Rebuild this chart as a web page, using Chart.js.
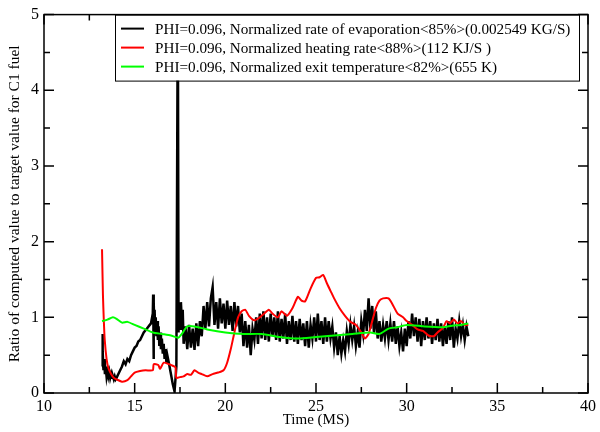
<!DOCTYPE html>
<html><head><meta charset="utf-8">
<script src="https://cdn.jsdelivr.net/npm/chart.js@4"></script>
<style>html,body{margin:0;padding:0;background:#fff;}canvas{display:block;}</style>
</head><body>
<canvas id="c" width="600" height="432" style="width:600px;height:432px"></canvas>
<script>
const xTicks = [10, 15, 20, 25, 30, 35, 40];
const xMinorTicks = [12.5, 17.5, 22.5, 27.5, 32.5, 37.5];
const yTicks = [0, 1, 2, 3, 4, 5];
const yMinorTicks = [0.5, 1.5, 2.5, 3.5, 4.5];
const legendLabels = [
  "PHI=0.096, Normalized rate of evaporation<85%>(0.002549 KG/S)",
  "PHI=0.096, Normalized heating rate<88%>(112 KJ/S )",
  "PHI=0.096, Normalized exit temperature<82%>(655 K)"
];
const xTitle = "Time (MS)";
const yTitle = "Ratio of computed value to target value for C1 fuel";

const evapTime = [13.20,13.22,13.25,13.28,13.32,13.36,13.40,13.45,13.50,13.55,13.60,13.65,13.70,13.75,13.80,13.85,13.90,13.95,14.00,
 14.1,14.2,14.3,14.4,14.5,14.6,14.7,14.8,14.9,15.0,15.1,15.2,15.3,15.4,15.5,15.6,15.7,15.8,15.9,
 16.00,16.02,16.04,16.06,16.08,16.10,16.13,16.16,16.20,16.24,16.28,16.32,16.36,16.40,16.45,16.50,16.55,16.60,16.65,16.70,16.75,16.80,16.90,17.00,17.10,17.20,17.30,17.38,17.42,17.45,17.50,17.55,17.60,17.65,
 17.7,17.8,17.9,18.0,18.1,18.2,18.3,18.4,18.5,18.6,18.7,18.8,18.9,19.0,19.1,19.2,19.3,19.4,19.5,19.6,19.7,19.8,19.9,
 20.0,20.1,20.2,20.3,20.4,20.5,20.6,20.7,20.8,20.9,21.0,21.1,21.2,21.3,21.4,21.5,21.6,21.7,21.8,21.9,
 22.0,22.1,22.2,22.3,22.4,22.5,22.6,22.7,22.8,22.9,23.0,23.1,23.2,23.3,23.4,23.5,23.6,23.7,23.8,23.9,
 24.0,24.1,24.2,24.3,24.4,24.5,24.6,24.7,24.8,24.9,25.0,25.1,25.2,25.3,25.4,25.5,25.6,25.7,25.8,25.9,
 26.0,26.1,26.2,26.3,26.4,26.5,26.6,26.7,26.8,26.9,27.0,27.1,27.2,27.3,27.4,27.5,27.6,27.7,27.8,27.9,
 28.0,28.1,28.2,28.3,28.4,28.5,28.6,28.7,28.8,28.9,29.0,29.1,29.2,29.3,29.4,29.5,29.6,29.7,29.8,29.9,
 30.0,30.1,30.2,30.3,30.4,30.5,30.6,30.7,30.8,30.9,31.0,31.1,31.2,31.3,31.4,31.5,31.6,31.7,31.8,31.9,
 32.0,32.1,32.2,32.3,32.4,32.5,32.6,32.7,32.8,32.9,33.0,33.1,33.2,33.3,33.4];
const evapValue = [0.35,0.78,0.55,0.30,0.45,0.25,0.35,0.22,0.30,0.22,0.28,0.20,0.25,0.20,0.22,0.18,0.22,0.18,0.20,
 0.25,0.30,0.35,0.42,0.38,0.45,0.42,0.50,0.55,0.60,0.62,0.68,0.70,0.75,0.80,0.83,0.86,0.89,0.92,
 1.05,1.30,0.45,1.20,0.90,1.10,0.80,1.00,0.75,0.95,0.70,0.88,0.62,0.80,0.58,0.72,0.52,0.65,0.45,0.58,0.40,0.50,0.38,0.25,0.12,0.02,0.35,5.30,0.80,1.15,0.85,1.20,0.95,1.10,
 0.65,0.88,0.58,0.90,0.60,0.85,0.57,0.92,0.62,0.95,0.75,1.15,0.85,1.20,0.88,1.25,1.40,0.90,1.20,0.85,1.25,0.92,1.18,
 0.85,1.22,0.90,1.15,0.82,1.20,0.88,1.15,0.80,1.05,0.62,0.95,0.60,0.90,0.50,0.85,0.70,1.00,0.65,1.05,
 0.72,1.08,0.70,1.00,0.68,1.05,0.75,1.00,0.70,1.08,0.68,0.98,0.72,1.05,0.65,0.95,0.70,1.02,0.68,0.95,
 0.65,0.98,0.70,0.92,0.62,0.95,0.60,0.90,0.72,1.00,0.68,1.05,0.70,0.95,0.65,1.00,0.68,0.95,0.72,0.88,
 0.60,0.80,0.50,0.75,0.52,0.70,0.55,0.82,0.65,0.90,0.70,0.88,0.62,0.80,0.60,0.95,0.78,1.10,0.82,1.25,
 0.85,1.15,0.78,1.08,0.72,0.95,0.68,0.90,0.72,0.95,0.70,0.92,0.68,0.95,0.65,0.88,0.62,0.80,0.55,0.85,
 0.62,0.95,0.72,1.05,0.75,1.00,0.68,0.98,0.62,0.95,0.70,1.00,0.72,0.95,0.65,0.92,0.70,0.98,0.68,0.92,
 0.62,0.88,0.65,0.95,0.70,1.00,0.60,0.85,0.72,0.95,0.75,0.90,0.70,0.88,0.75];

const heatTime = [13.20,13.25,13.30,13.35,13.45,13.55,13.70,13.85,14.0,14.3,14.6,14.8,15.0,15.3,15.6,16.0,16.05,16.3,16.4,16.6,16.9,17.1,17.25,17.3,17.5,17.7,17.9,18.1,18.3,18.5,18.7,19.0,19.3,19.6,19.9,20.1,20.3,20.5,20.7,20.9,21.1,21.3,21.6,21.9,22.1,22.4,22.6,22.9,23.1,23.4,23.7,24.0,24.2,24.4,24.7,25.0,25.2,25.4,25.6,25.8,26.0,26.3,26.6,26.9,27.2,27.5,27.7,27.9,28.1,28.3,28.5,28.7,29.0,29.2,29.5,29.8,30.0,30.3,30.6,30.9,31.2,31.5,31.7,32.0,32.2,32.4,32.6,32.8,33.0,33.2,33.4];
const heatValue = [1.90,1.30,0.95,0.70,0.45,0.33,0.25,0.20,0.18,0.15,0.17,0.22,0.27,0.29,0.30,0.30,0.38,0.37,0.32,0.40,0.38,0.36,0.34,0.20,0.21,0.22,0.25,0.24,0.30,0.27,0.25,0.22,0.25,0.27,0.30,0.40,0.58,0.80,1.00,1.08,1.10,1.02,0.96,1.00,1.04,1.10,1.05,1.00,1.08,1.02,1.12,1.27,1.22,1.21,1.38,1.52,1.53,1.56,1.45,1.35,1.25,1.12,1.02,0.94,0.90,0.80,0.72,0.78,0.95,1.12,1.22,1.25,1.25,1.18,1.05,1.00,0.95,0.90,0.84,0.82,0.76,0.75,0.80,0.86,0.95,0.92,0.97,0.92,0.95,0.90,0.90];

const tempTime = [13.2,13.5,13.8,14.0,14.3,14.6,15.0,15.5,16.0,16.5,17.0,17.4,17.6,17.9,18.3,19.0,20.0,21.0,22.0,23.0,24.0,25.0,26.0,27.0,28.0,28.5,29.0,29.5,30.0,31.0,32.0,32.5,33.0,33.4];
const tempValue = [0.95,0.97,1.00,0.98,0.93,0.94,0.90,0.85,0.80,0.78,0.76,0.73,0.78,0.88,0.88,0.84,0.80,0.78,0.78,0.74,0.72,0.74,0.76,0.78,0.80,0.78,0.85,0.87,0.90,0.88,0.87,0.89,0.90,0.92];

function pairs(xs, ys){ return xs.map((x,i)=>({x:x, y:ys[i]})); }
const colors = ['#000000','#ff0000','#00ff00'];
const serif = "'Liberation Serif', 'DejaVu Serif', serif";

const decor = {
  id:'decor',
  afterDatasetsDraw(chart){
    const ctx = chart.ctx, a = chart.chartArea;
    const xs = chart.scales.x, ys = chart.scales.y;
    ctx.save();
    ctx.strokeStyle = '#000'; ctx.lineWidth = 1.5;
    ctx.beginPath();
    xTicks.forEach(v=>{const p=xs.getPixelForValue(v); ctx.moveTo(p,a.bottom); ctx.lineTo(p,a.bottom-10); ctx.moveTo(p,a.top); ctx.lineTo(p,a.top+10);});
    xMinorTicks.forEach(v=>{const p=xs.getPixelForValue(v); ctx.moveTo(p,a.bottom); ctx.lineTo(p,a.bottom-6); ctx.moveTo(p,a.top); ctx.lineTo(p,a.top+6);});
    yTicks.forEach(v=>{const p=ys.getPixelForValue(v); ctx.moveTo(a.left,p); ctx.lineTo(a.left+10,p); ctx.moveTo(a.right,p); ctx.lineTo(a.right-10,p);});
    yMinorTicks.forEach(v=>{const p=ys.getPixelForValue(v); ctx.moveTo(a.left,p); ctx.lineTo(a.left+6,p); ctx.moveTo(a.right,p); ctx.lineTo(a.right-6,p);});
    ctx.stroke();
    // legend
    const lx=115, ly=a.top, lw=464, lh=66;
    ctx.fillStyle='#fff'; ctx.fillRect(lx,ly,lw,lh);
    ctx.lineWidth=1; ctx.strokeStyle='#000'; ctx.strokeRect(lx+0.5,ly+0.5,lw,lh);
    ctx.font = "15.2px " + serif; ctx.textBaseline='middle'; ctx.textAlign='left';
    legendLabels.forEach((t,i)=>{
      const y = ly + 14 + i*19;
      ctx.strokeStyle=colors[i]; ctx.lineWidth=2;
      ctx.beginPath(); ctx.moveTo(121,y); ctx.lineTo(144,y); ctx.stroke();
      ctx.fillStyle='#000'; ctx.fillText(t,155,y+1);
    });
    // frame
    ctx.strokeStyle='#000'; ctx.lineWidth=1.5;
    ctx.strokeRect(a.left,a.top,a.right-a.left,a.bottom-a.top);
    // titles
    ctx.fillStyle='#000'; ctx.textAlign='center'; ctx.textBaseline='middle';
    ctx.font="15px "+serif;
    ctx.fillText(xTitle,(a.left+a.right)/2,420);
    ctx.font="15.5px "+serif;
    ctx.translate(15,(a.top+a.bottom)/2); ctx.rotate(-Math.PI/2);
    ctx.fillText(yTitle,0,0);
    ctx.restore();
  }
};

new Chart(document.getElementById('c'), {
  type:'line',
  data:{datasets:[
    {label:legendLabels[0], data:pairs(evapTime,evapValue), borderColor:colors[0], borderWidth:2.5, pointRadius:0, tension:0, order:3},
    {label:legendLabels[1], data:pairs(heatTime,heatValue), borderColor:colors[1], borderWidth:2, pointRadius:0, tension:0.2, order:2},
    {label:legendLabels[2], data:pairs(tempTime,tempValue), borderColor:colors[2], borderWidth:2, pointRadius:0, tension:0.2, order:1}
  ]},
  options:{
    responsive:false, animation:false, devicePixelRatio:1,
    layout:{padding:{top:10,right:7,left:0,bottom:0}},
    plugins:{legend:{display:false}, tooltip:{enabled:false}},
    scales:{
      x:{type:'linear', min:10, max:40,
         afterBuildTicks(s){ s.ticks = xTicks.map(v=>({value:v})); },
         afterFit(s){ s.height = 39; },
         grid:{display:false, drawTicks:false}, border:{display:false},
         ticks:{padding:4, color:'#000', font:{family:serif,size:16}, maxRotation:0, callback:v=>String(v)}},
      y:{type:'linear', min:0, max:5,
         afterBuildTicks(s){ s.ticks = yTicks.map(v=>({value:v})); },
         afterFit(s){ s.width = 44; },
         grid:{display:false, drawTicks:false}, border:{display:false},
         ticks:{padding:5, color:'#000', font:{family:serif,size:16}, callback:v=>String(v)}}
    }
  },
  plugins:[decor]
});
</script>
</body></html>
